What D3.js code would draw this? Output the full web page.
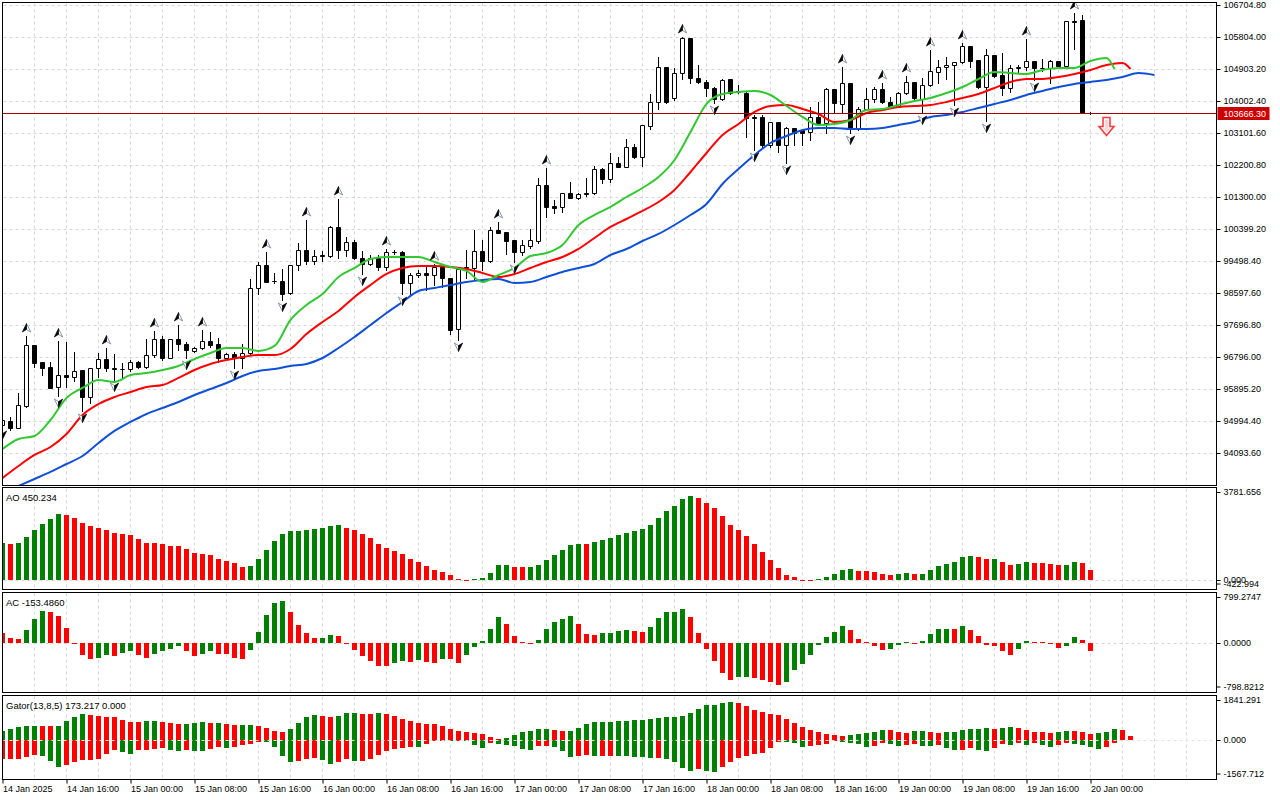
<!DOCTYPE html>
<html>
<head>
<meta charset="utf-8">
<script src="https://cdn.jsdelivr.net/npm/d3@7"></script>
<style>
html, body { margin: 0; padding: 0; background: #fff; }
svg { display: block; font-family: "Liberation Sans", Arial, sans-serif; font-size: 9px; }
</style>
</head>
<body>
<div id="chart"></div>
<script>
'use strict';

// ---- hourly candles, 14 Jan 08:00 .. 20 Jan 00:00 ----
const opens = [94882,94995,94798,95418,97134,96656,96515,95952,96290,96234,96431,95671,96487,96740,96487,96459,96459,96656,96515,96853,
  97303,96768,97303,97163,96966,97050,97247,97163,96768,96881,96768,96909,98739,99387,98936,98936,98598,99387,99809,99499,
  99668,99640,100456,99809,100034,99584,99415,99584,99330,99753,99753,98880,99105,99161,99105,99330,99021,97585,99302,99302,
  99781,99499,100372,100315,100090,99753,99921,100062,101639,101047,101019,101413,101272,101413,101413,102089,101807,102258,102145,102708,
  102427,103299,103975,104960,104087,104791,105776,104650,104538,104369,104059,104622,104284,104228,103553,103553,102764,103412,102764,103243,
  103187,103130,103553,103384,104341,103919,104510,103243,103778,104059,104341,103975,103834,104228,104538,104059,104453,104819,104960,105016,
  105101,105551,105157,104397,105298,104735,104369,104932,104960,105129,104932,104932,105129,104988,106255,106283,103660];
const highs = [95107,95107,95784,97388,97134,96656,96656,97247,97219,96937,96431,96487,96909,97050,96881,96628,96712,96670,97303,97529,
  97388,97303,97697,97219,97078,97557,97500,97332,96909,96937,97163,98992,99471,99753,99161,99274,99387,100006,100653,99809,
  99781,100484,101244,100175,100090,99781,99668,99668,99837,99809,99781,99161,99246,99330,99415,99330,99021,99274,99809,100372,
  100090,100456,100597,100315,100090,100090,100400,101835,102117,101216,101413,101723,101413,101835,102173,102117,102539,102427,102933,102792,
  103327,104200,105241,104960,104932,105810,105776,105016,104594,104397,104622,104622,104453,104256,103609,103609,103412,103412,103271,103243,
  103215,103834,103975,104369,104341,104960,104510,103834,104369,104397,104510,104115,104256,104707,104538,104650,105438,105157,105241,105101,
  105636,105551,105157,105467,105298,105354,105016,105016,105748,105129,105185,105157,105129,106255,106480,106424,103700];
const lows = [94798,94742,94798,95389,96515,96290,95924,95699,95952,96121,95277,95502,96234,96403,96149,96234,96403,96487,96487,96796,
  96712,96768,96994,96768,96937,97022,97078,96656,96740,96487,96487,96881,98570,98908,98880,98401,98570,99246,99415,99415,
  99499,99612,99584,99640,99555,99133,99387,99246,99246,99696,98570,98570,99049,98683,98823,98767,97444,97275,99021,98964,
  99246,99471,100287,99696,99471,99668,99865,100006,100737,100850,100878,101272,101244,101329,101385,101695,101723,102145,102145,102398,
  102173,103215,103778,103947,104031,104622,104510,104510,104144,103947,104031,104200,104228,102989,102624,102708,102708,102567,102258,102764,
  102764,102905,103356,103102,103665,103665,103102,103187,103750,103975,103947,103834,103834,104200,104059,103665,104425,104510,104622,103890,
  105073,104960,104369,103440,104678,104172,104256,104819,104876,104594,104847,104510,104988,104960,105467,103665,103640];
const closes = [95023,94798,95446,97134,96628,96487,95924,96290,96234,96403,95671,96487,96740,96487,96459,96465,96656,96515,96853,97303,
  96768,97303,97163,96994,97050,97247,97134,96768,96881,96768,96909,98739,99387,98908,98930,98570,99387,99809,99499,99640,
  99640,100456,99809,100034,99584,99415,99584,99330,99753,99745,98880,99105,99161,99105,99330,99021,97557,99274,99330,99781,
  99499,100372,100287,100062,99753,99949,100090,101639,101019,100991,101413,101272,101385,101385,102089,101807,102258,102145,102708,102427,
  103327,103975,104960,103975,104791,105776,104650,104538,104369,104059,104594,104228,104256,103524,103524,102764,103412,102764,103243,103102,
  103102,103553,103384,104341,103947,104510,103243,103778,104059,104341,103975,103834,104228,104538,104087,104453,104847,104960,105016,105101,
  105551,105129,104397,105298,104707,104369,104932,104960,105129,104932,104925,105129,104988,106255,106227,103665,103666.3];

// ---- Alligator lines, read every 2nd bar (shifted lines run past the last candle) ----
const jawValues = [92969,93165,93362,93560,93784,94010,94376,94714,94967,95192,95361,95530,95727,95896,96065,96262,96403,96459,96544,96600,
  96768,97050,97360,97697,98035,98345,98655,98739,98823,98908,98964,98992,98880,98908,99049,99190,99302,99415,99668,99837,
  100062,100259,100512,100794,101104,101667,102089,102483,102820,103018,103187,103243,103243,103215,103215,103243,103327,103412,103553,103609,
  103693,103806,103919,104031,104172,104284,104397,104481,104538,104594,104678,104791,104735];
const teethValues = [93390,93728,94038,94263,94629,95164,95473,95671,95811,95952,96008,96206,96431,96600,96712,96796,96853,96853,97022,97444,
  97782,98092,98486,98823,99133,99302,99358,99358,99330,99274,99161,99049,99133,99302,99471,99612,99837,100147,100456,100681,
  100907,101160,101498,102004,102539,103046,103356,103693,103862,103890,103778,103637,103412,103468,103665,103750,103834,103862,103890,103975,
  104087,104200,104369,104538,104622,104622,104678,104763,104876,105016,105073];
const teethLast = [141, 104904];
const lipsValues = [94207,94488,94573,95023,95643,95924,96149,96093,96290,96346,96431,96544,96740,96909,97050,97050,96966,97107,97838,98261,
  98570,99049,99302,99555,99612,99612,99612,99471,99330,99218,98908,99105,99302,99640,99724,99949,100512,100794,101019,101300,
  101554,101863,102342,103130,103919,104200,104256,104284,104172,103862,103553,103327,103356,103468,103750,103778,103890,104003,104087,104228,
  104397,104622,104819,104791,104763,104876,104932,104932,105129,105213];
const lipsLast = [139, 104904];

// ---- Fractals (bar indices) ----
const upFractals = [3,7,13,19,22,25,33,38,42,48,54,62,68,85,105,110,113,116,120,128,134];
const downFractals = [0,7,10,14,23,29,35,45,50,57,64,89,94,98,106,115,119,123,129];
const sellSignal = { bar: 138, price: 103553 };

// ---- Awesome Oscillator ----
const aoValues = [1640,1610,1655,1923,2251,2505,2729,2952,2893,2773,2550,2415,2326,2237,2102,2058,1998,1849,1655,1650,
  1610,1521,1515,1387,1208,1163,1118,939,850,760,581,626,939,1342,1744,2058,2192,2207,2237,2281,
  2326,2415,2460,2320,2237,2058,1879,1610,1431,1297,1163,939,805,626,447,358,224,35,12,45,
  90,313,671,680,581,575,590,671,895,1118,1342,1566,1610,1600,1700,1789,1879,2013,2102,2192,
  2281,2460,2773,3086,3310,3623,3781.656,3668,3444,3221,2863,2460,2237,1968,1610,1252,895,537,224,134,
  -15,-30,30,134,268,447,492,402,398,358,268,224,268,313,268,275,447,626,716,805,
  1029,1073,1029,939,945,805,671,716,805,760,755,716,671,680,805,760,450.234];

// ---- Accelerator Oscillator ----
const acValues = [197,95,76,247,457,609,590,514,285,-8,-222,-304,-285,-228,-247,-184,-152,-228,-285,-209,
  -152,-114,-57,-152,-247,-209,-152,-209,-215,-285,-300,-133,209,533,761,799.2747,590,343,190,95,
  100,152,133,-5,-133,-247,-343,-438,-444,-381,-343,-362,-323,-362,-381,-304,-310,-381,-228,-76,
  38,266,495,362,133,19,5,57,266,400,457,514,362,171,152,190,195,228,247,228,
  209,304,476,590,596,647,495,190,-114,-343,-571,-704,-653,-647,-660,-698,-736,-798.8212,-736,-507,
  -393,-228,-32,114,209,323,247,76,19,-51,-133,-114,-32,19,-6,38,171,266,272,260,
  323,247,133,-32,-57,-152,-228,-114,38,19,15,5,-95,-57,114,57,-153.486];

// ---- Gator oscillator ----
const gatorUp = [428,526,639,672,680,675,670,676,915,1110,1240,1208,1159,1126,1110,964,867,860,915,920,
  867,818,769,786,818,867,818,825,769,700,705,710,672,575,428,380,526,818,1110,1208,
  1159,1110,1159,1305,1310,1256,1250,1305,1256,1159,1013,915,818,769,765,672,526,428,380,331,
  282,150,55,88,234,380,428,526,530,477,428,435,575,769,867,870,875,915,920,964,
  970,1013,1062,1110,1115,1159,1305,1500,1695,1700,1792,1841.291,1792,1646,1451,1354,1256,1191,1013,818,
  623,477,380,282,234,185,234,282,331,380,477,470,380,331,428,435,380,331,380,385,
  477,526,530,575,526,575,623,575,477,380,375,331,380,428,420,365,282,316,365,526,477,173.217];
const gatorDown = [-951,-919,-915,-821,-724,-789,-1032,-1308,-1211,-1081,-984,-980,-935,-691,-497,-594,-691,-497,-490,-448,
  -399,-497,-545,-513,-545,-550,-432,-334,-399,-334,-237,-188,-107,-110,-334,-773,-1081,-1032,-919,-870,
  -984,-1178,-1081,-951,-1032,-1016,-919,-724,-545,-432,-383,-334,-340,-188,-58,-42,-58,-26,-58,-237,
  -383,-140,-188,-237,-286,-432,-480,-286,-280,-334,-545,-821,-773,-724,-773,-770,-765,-775,-780,-821,
  -825,-870,-865,-919,-1065,-1357,-1503,-1406,-1503,-1567.712,-1330,-1065,-870,-773,-675,-626,-383,-91,-95,-140,
  -334,-286,-237,-188,-42,-91,-140,-188,-334,-286,-140,-188,-286,-237,-188,-286,-290,-237,-383,-480,
  -475,-383,-480,-529,-383,-188,-237,-140,-237,-140,-237,-334,-237,-140,-188,-250,-336,-463,-336,-170];

// ---- Axis labels ----
const priceTicks = [106704.80,105804.00,104903.20,104002.40,103101.60,102200.80,101300.00,100399.20,
  99498.40,98597.60,97696.80,96796.00,95895.20,94994.40,94093.60];
const timeLabels = ["14 Jan 2025","14 Jan 16:00","15 Jan 00:00","15 Jan 08:00","15 Jan 16:00","16 Jan 00:00",
  "16 Jan 08:00","16 Jan 16:00","17 Jan 00:00","17 Jan 08:00","17 Jan 16:00","18 Jan 00:00",
  "18 Jan 08:00","18 Jan 16:00","19 Jan 00:00","19 Jan 08:00","19 Jan 16:00","20 Jan 00:00"];
const lastPrice = 103666.30;

// ---------------------------------------------------------------
const W = 1280, H = 800;
const left = 2.5, right = 1216.5;
const pMain = { top: 2.5, bottom: 485.5 };
const pAO = { top: 487.5, bottom: 589.5 };
const pAC = { top: 592.5, bottom: 692.5 };
const pGator = { top: 695.5, bottom: 779.5 };

const GREEN = "#008000", RED = "#ff0000";
const GRID = "#d6d6d6";

const x = d3.scaleLinear().domain([0, 136]).range([2.5, 1090.5]);
const yMain = d3.scaleLinear().domain([106704.8, 94093.6]).range([5, 453]);
const yAO = d3.scaleLinear().domain([-422.994, 3781.656]).range([589.5, 495.5]);
const yAC = d3.scaleLinear().domain([-798.8212, 799.2747]).range([685, 601]);
const yGator = d3.scaleLinear().domain([-1567.712, 1841.291]).range([772, 702]);

const svg = d3.select("#chart").append("svg")
  .attr("width", W).attr("height", H)
  .attr("viewBox", [0, 0, W, H]);

const defs = svg.append("defs");
function clip(id, p) {
  defs.append("clipPath").attr("id", id)
    .append("rect")
    .attr("x", left + 0.5).attr("y", p.top + 0.5)
    .attr("width", right - left - 1).attr("height", p.bottom - p.top - 1);
  return `url(#${id})`;
}

const panels = [
  { p: pMain, id: "cMain" },
  { p: pAO, id: "cAO" },
  { p: pAC, id: "cAC" },
  { p: pGator, id: "cGator" }
];
panels.forEach(d => d.clip = clip(d.id, d.p));

// vertical grid, every 4 bars
const vgrid = d3.range(0, 1216, 32).map(v => v + 2.5);
panels.forEach(({ p }) => {
  svg.append("g")
    .selectAll("line")
    .data(vgrid.filter(v => v > left + 1))
    .join("line")
      .attr("x1", d => d).attr("x2", d => d)
      .attr("y1", p.top + 1).attr("y2", p.bottom - 1)
      .attr("stroke", GRID).attr("stroke-dasharray", "3,3");
});

// horizontal grid on price panel
svg.append("g")
  .selectAll("line")
  .data(priceTicks)
  .join("line")
    .attr("x1", left + 1).attr("x2", right - 1)
    .attr("y1", d => Math.round(yMain(d)) + 0.5)
    .attr("y2", d => Math.round(yMain(d)) + 0.5)
    .attr("stroke", GRID).attr("stroke-dasharray", "3,3");

// ---- price panel ----
const gMain = svg.append("g").attr("clip-path", panels[0].clip);

const bars = d3.range(opens.length);
const cndl = gMain.append("g").selectAll("g").data(bars).join("g");
cndl.append("line")
  .attr("x1", i => x(i)).attr("x2", i => x(i))
  .attr("y1", i => Math.round(yMain(highs[i])))
  .attr("y2", i => Math.round(yMain(lows[i])) + 1)
  .attr("stroke", "#000");
cndl.append("path")
  .attr("d", i => {
    const y0 = Math.round(yMain(Math.max(opens[i], closes[i]))) + 0.5;
    const y1 = Math.round(yMain(Math.min(opens[i], closes[i]))) + 0.5;
    return `M${x(i) - 2},${y0}H${x(i) + 2}V${y1}H${x(i) - 2}Z`;
  })
  .attr("fill", i => closes[i] >= opens[i] ? "#fff" : "#000")
  .attr("stroke", "#000");

// alligator
const jaw = jawValues.map((v, k) => [k * 2, v]);
const teeth = teethValues.map((v, k) => [k * 2, v]).concat([teethLast]);
const lips = lipsValues.map((v, k) => [k * 2, v]).concat([lipsLast]);
const line = d3.line().x(d => x(d[0])).y(d => yMain(d[1])).curve(d3.curveMonotoneX);
[[jaw, "#1050d8"], [teeth, "#ff0000"], [lips, "#32c832"]].forEach(([data, c]) => {
  gMain.append("path").datum(data)
    .attr("d", line)
    .attr("fill", "none").attr("stroke", c).attr("stroke-width", 2)
    .attr("stroke-linejoin", "round");
});

// current price line
gMain.append("line")
  .attr("x1", left).attr("x2", right)
  .attr("y1", Math.round(yMain(lastPrice)) + 0.5)
  .attr("y2", Math.round(yMain(lastPrice)) + 0.5)
  .attr("stroke", "#a00000");

// fractal arrows: dark half on the leading side, light half outlined
function arrow(g, cx, by, dir) {
  const t = by - 8.5 * dir, n = by - 2.5 * dir;
  const dark = dir > 0 ? -1 : 1;
  g.append("path").attr("d", `M${cx},${t}L${cx - 4.2 * dark},${by}L${cx},${n}Z`)
    .attr("fill", "#fff").attr("stroke", "#7d8ca3").attr("stroke-width", 0.9);
  g.append("path").attr("d", `M${cx},${t}L${cx + 4.2 * dark},${by}L${cx},${n}Z`)
    .attr("fill", "#000").attr("stroke", "#000").attr("stroke-width", 0.6);
}
const gFr = gMain.append("g");
upFractals.forEach(i => arrow(gFr, x(i), Math.round(yMain(highs[i])) - 4, 1));
downFractals.forEach(i => arrow(gFr, x(i), Math.round(yMain(lows[i])) + 3, -1));

// sell signal arrow
{
  const cx = x(sellSignal.bar), t = Math.round(yMain(sellSignal.price)) + 0.5;
  gMain.append("path")
    .attr("d", `M${cx - 3.5},${t}H${cx + 3.5}V${t + 9}H${cx + 7.5}L${cx},${t + 18}L${cx - 7.5},${t + 9}H${cx - 3.5}Z`)
    .attr("fill", "#fff").attr("stroke", "#ff3c3c").attr("stroke-width", 1.6);
  gMain.append("path")
    .attr("d", `M${cx - 1.5},${t + 2}H${cx + 1.5}V${t + 11}H${cx + 3.5}L${cx},${t + 15}L${cx - 3.5},${t + 11}H${cx - 1.5}Z`)
    .attr("fill", "#ffd4d4");
}

// ---- histograms ----
function histogram(values, scale, clipUrl, colorOf) {
  const g = svg.append("g").attr("clip-path", clipUrl);
  const y0 = Math.round(scale(0));
  g.selectAll("rect")
    .data(values.map((v, i) => ({ v, i })))
    .join("rect")
      .attr("x", d => x(d.i) - 2.5)
      .attr("width", 5)
      .attr("y", d => Math.min(Math.round(scale(d.v)), y0))
      .attr("height", d => Math.max(Math.abs(Math.round(scale(d.v)) - y0), 1))
      .attr("fill", d => colorOf(d, values));
  return g;
}
const byRise = first => (d, arr) => d.i === 0 ? first : (arr[d.i] > arr[d.i - 1] ? GREEN : RED);
const byMagnitude = first => (d, arr) => d.i === 0 ? first : (Math.abs(arr[d.i]) > Math.abs(arr[d.i - 1]) ? GREEN : RED);

function zeroLine(scale) {
  svg.append("line")
    .attr("x1", left + 1).attr("x2", right - 1)
    .attr("y1", Math.round(scale(0)) + 0.5).attr("y2", Math.round(scale(0)) + 0.5)
    .attr("stroke", GRID).attr("stroke-dasharray", "3,3");
}

zeroLine(yAO);
histogram(aoValues, yAO, panels[1].clip, byRise(GREEN));
zeroLine(yAC);
histogram(acValues, yAC, panels[2].clip, byRise(RED));
histogram(gatorUp, yGator, panels[3].clip, byMagnitude(GREEN));
histogram(gatorDown, yGator, panels[3].clip, byMagnitude(RED));
svg.append("line")
  .attr("x1", left + 1).attr("x2", right - 1)
  .attr("y1", Math.round(yGator(0)) + 0.5).attr("y2", Math.round(yGator(0)) + 0.5)
  .attr("stroke", "#e4e4e4").attr("stroke-dasharray", "3,3");

// ---- frames ----
panels.forEach(({ p }) => {
  svg.append("rect")
    .attr("x", left).attr("y", p.top)
    .attr("width", right - left).attr("height", p.bottom - p.top)
    .attr("fill", "none").attr("stroke", "#000");
});

// ---- price axis ----
const axisY = svg.append("g")
  .attr("transform", `translate(${right},0)`)
  .call(d3.axisRight(yMain).tickValues(priceTicks).tickSize(4).tickPadding(3)
    .tickFormat(d => d.toFixed(2)));
axisY.select(".domain").remove();
axisY.selectAll("text").attr("font-size", 9).attr("font-family", null).attr("fill", "#000");

// current price tag
svg.append("rect")
  .attr("x", right + 1).attr("y", Math.round(yMain(lastPrice)) - 6)
  .attr("width", 52).attr("height", 13)
  .attr("fill", "#cc0000");
svg.append("text")
  .attr("x", right + 7).attr("y", Math.round(yMain(lastPrice)) + 0.5)
  .attr("dy", "0.35em")
  .attr("fill", "#fff")
  .text(lastPrice.toFixed(2));

// indicator axes: max, zero, min labels (min and zero overlap in the AO pane, as in the source)
function sideLabels(p, scale, hi, lo, fmt) {
  const g = svg.append("g");
  const items = [
    { y: p.top + 5, t: fmt(hi) },
    { y: Math.round(scale(0)) + 0.5, t: fmt(0) },
    { y: p.bottom - 5.5, t: fmt(lo) }
  ];
  items.forEach(d => {
    g.append("line").attr("x1", right).attr("x2", right + 4)
      .attr("y1", d.y).attr("y2", d.y).attr("stroke", "#000");
    g.append("text").attr("x", right + 7).attr("y", d.y).attr("dy", "0.32em").text(d.t);
  });
}
sideLabels(pAO, yAO, 3781.656, -422.994, d => d.toFixed(3));
sideLabels(pAC, yAC, 799.2747, -798.8212, d => d.toFixed(4));
sideLabels(pGator, yGator, 1841.291, -1567.712, d => d.toFixed(3));

// indicator titles
const titles = svg.append("g").attr("font-size", 9.5);
titles.append("text").attr("x", 6).attr("y", pAO.top + 10).attr("dy", "0.32em")
  .text(`AO ${aoValues[aoValues.length - 1].toFixed(3)}`);
titles.append("text").attr("x", 6).attr("y", pAC.top + 10).attr("dy", "0.32em")
  .text(`AC ${acValues[acValues.length - 1].toFixed(4)}`);
titles.append("text").attr("x", 6).attr("y", pGator.top + 10).attr("dy", "0.32em")
  .text(`Gator(13,8,5) ${gatorUp[gatorUp.length - 1].toFixed(3)} 0.000`);

// ---- time axis ----
const timeBars = timeLabels.map((_, k) => k * 8);
const axisX = svg.append("g")
  .attr("transform", `translate(0,${pGator.bottom})`)
  .call(d3.axisBottom(x).tickValues(timeBars).tickSize(4)
    .tickFormat((d, k) => timeLabels[k]));
axisX.select(".domain").remove();
axisX.selectAll("text")
  .attr("font-size", 9).attr("font-family", null).attr("fill", "#000")
  .attr("text-anchor", "start").attr("x", 0).attr("y", 12).attr("dy", 0);
</script>
</body>
</html>
